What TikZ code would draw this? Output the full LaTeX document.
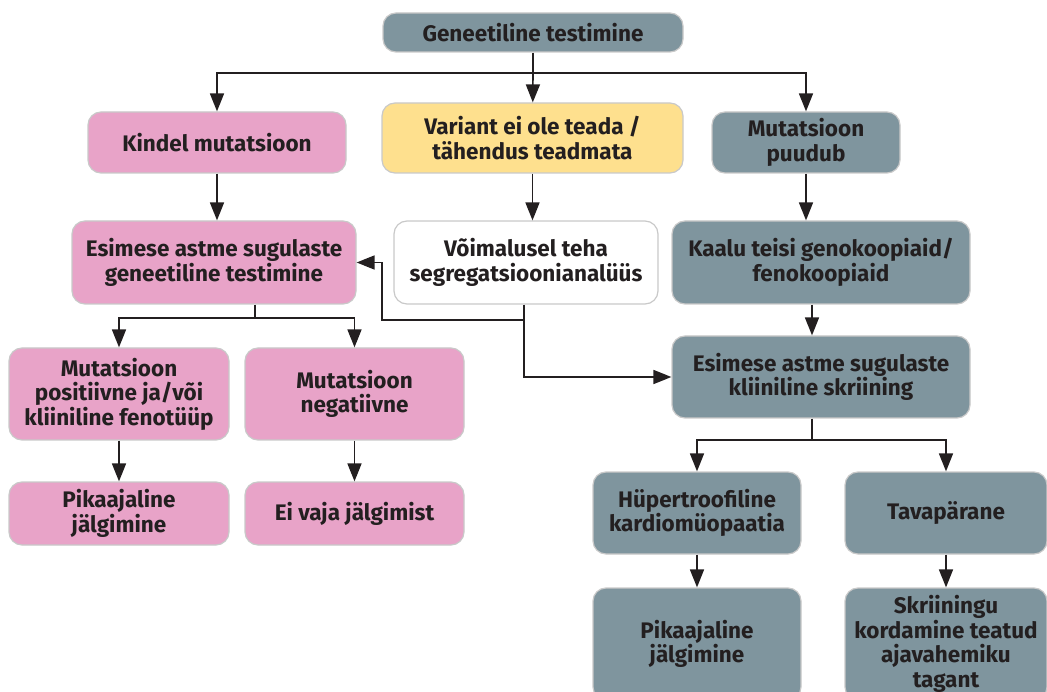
\documentclass[tikz,border=0pt]{standalone}
\usepackage{fontspec}
\setmainfont{Fira Sans}
\usetikzlibrary{arrows.meta}
\definecolor{slate}{HTML}{7F959E}
\definecolor{rose}{HTML}{E8A3C8}
\definecolor{sand}{HTML}{FEE08E}
\definecolor{ink}{HTML}{231F20}
\definecolor{rim}{HTML}{C9C9C9}
\tikzset{
  box/.style={draw=rim, line width=1.2pt, rounded corners=13pt, align=center,
    font=\bfseries\fontsize{22.5}{24.5}\selectfont, text=ink, inner sep=0pt},
  greybox/.style={box, fill=slate},
  pinkbox/.style={box, fill=rose},
  goldbox/.style={box, fill=sand},
  plainbox/.style={box, fill=white},
  link/.style={draw=ink, line width=1.6pt},
  arr/.style={link, -{Triangle[length=18pt,width=14pt]}}
}
\begin{document}
\begin{tikzpicture}[x=1pt, y=-1pt]
\useasboundingbox (0,0) rectangle (1047,692);
\node[greybox, minimum width=300, minimum height=39] (top) at (533,32.5) {Geneetiline testimine};
\node[pinkbox, minimum width=258, minimum height=61] (kin) at (217,142.5) {Kindel mutatsioon};
\node[goldbox, minimum width=301, minimum height=70] (var) at (532.5,138) {Variant ei ole teada /\\tähendus teadmata};
\node[greybox, minimum width=188, minimum height=61] (puu) at (806,142.5) {Mutatsioon\\puudub};
\node[pinkbox, minimum width=284, minimum height=83] (esg) at (214,262.5) {Esimese astme sugulaste\\geneetiline testimine};
\node[plainbox, minimum width=264, minimum height=83] (voi) at (526,262.5) {Võimalusel teha\\segregatsioonianalüüs};
\node[greybox, minimum width=298, minimum height=83] (kaa) at (821,262.5) {Kaalu teisi genokoopiaid/\\fenokoopiaid};
\node[greybox, minimum width=298, minimum height=82] (esk) at (821,377) {Esimese astme sugulaste\\kliiniline skriining};
\node[pinkbox, minimum width=220, minimum height=92] (pos) at (119,394) {Mutatsioon\\positiivne ja/või\\kliiniline fenotüüp};
\node[pinkbox, minimum width=219, minimum height=92] (neg) at (354.5,394) {Mutatsioon\\negatiivne};
\node[pinkbox, minimum width=220, minimum height=63] (pik1) at (119,513.5) {Pikaajaline\\jälgimine};
\node[pinkbox, minimum width=219, minimum height=63] (eiv) at (354.5,513.5) {Ei vaja jälgimist};
\node[greybox, minimum width=208, minimum height=82] (hyp) at (697,513) {Hüpertroofiline\\kardiomüopaatia};
\node[greybox, minimum width=202, minimum height=82] (tav) at (946,513) {Tavapärane};
\node[greybox, minimum width=208, minimum height=112] (pik2) at (697,644) {Pikaajaline\\jälgimine};
\node[greybox, minimum width=202, minimum height=112] (skr) at (946,644) {Skriiningu\\kordamine teatud\\ajavahemiku\\tagant};

\coordinate (j1) at (533,73);
\coordinate (j2) at (255,318);
\coordinate (j3) at (524,320);
\coordinate (j4) at (382,320);
\coordinate (j5) at (812,440);
\draw[link] (top) -- (j1);
\draw[arr] (j1) -| (kin);
\draw[arr] (j1) -- (var);
\draw[arr] (j1) -| (puu);
\draw[arr] (kin.south) -- (kin.south |- esg.north);
\draw[arr] (var.south) -- (var.south |- voi.north);
\draw[arr] (puu.south) -- (puu.south |- kaa.north);
\draw[arr] (kaa.south -| j5) -- (esk.north -| j5);
\draw[link] (esg.south -| j2) -- (j2);
\draw[arr] (j2) -| (pos);
\draw[arr] (j2) -| (neg);
\draw[arr] (pos) -- (pik1);
\draw[arr] (neg) -- (eiv);
\draw[link] (voi.south -| j3) -- (j3);
\draw[arr] (j3) -- (j4) |- (esg);
\draw[arr] (j3) |- (esk);
\draw[link] (esk.south -| j5) -- (j5);
\draw[arr] (j5) -| (hyp);
\draw[arr] (j5) -| (tav);
\draw[arr] (hyp) -- (pik2);
\draw[arr] (tav) -- (skr);
\end{tikzpicture}
\end{document}
